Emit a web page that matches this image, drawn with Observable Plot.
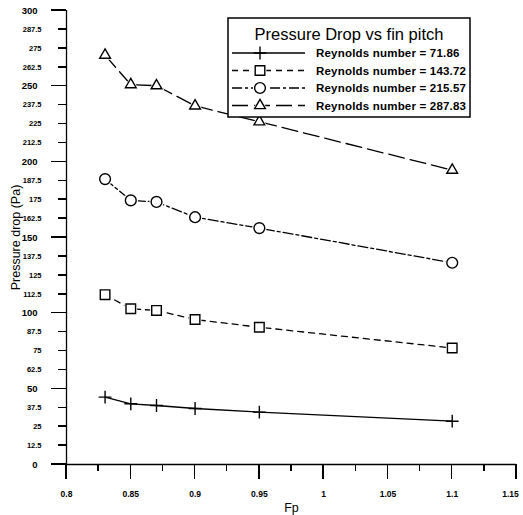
<!DOCTYPE html>
<html>
<head>
<meta charset="utf-8">
<script src="https://cdn.jsdelivr.net/npm/d3@7"></script>
<script src="https://cdn.jsdelivr.net/npm/@observablehq/plot@0.6"></script>
<style>
  body { margin: 0; background: #fff; }
</style>
</head>
<body>
<div id="wrap"></div>
<script>
// ---- data ----
const fp = [0.83, 0.85, 0.87, 0.9, 0.95, 1.1];
const re71 = [44.5, 40.1, 39.0, 37.0, 34.6, 28.6];
const re143 = [112.2, 102.9, 101.8, 95.8, 90.7, 77.0];
const re215 = [188.6, 174.5, 173.5, 163.4, 156.2, 133.3];
const re287 = [270.5, 251.0, 250.3, 237.0, 226.5, 194.5];
const seriesNames = ["Reynolds number = 71.86", "Reynolds number = 143.72", "Reynolds number = 215.57", "Reynolds number = 287.83"];
const seriesValues = [re71, re143, re215, re287];
const legendTitle = "Pressure Drop vs fin pitch";
const xLabel = "Fp";
const yLabel = "Pressure drop (Pa)";
const yMajor = [0, 50, 100, 150, 200, 250, 300];
const yMinor = [12.5, 25, 37.5, 62.5, 75, 87.5, 112.5, 125, 137.5, 162.5, 175, 187.5, 212.5, 225, 237.5, 262.5, 275, 287.5];
const xMajor = [0.8, 0.85, 0.9, 0.95, 1, 1.05, 1.1, 1.15];
const xMinor = [0.825, 0.875, 0.925, 0.975, 1.025, 1.075, 1.125];

// ---- styles ----
const symbols = ["plus", "square", "circle", "triangle"];
const d3symbols = [d3.symbolPlus, d3.symbolSquare, d3.symbolCircle, d3.symbolTriangle];
const dashes = [null, "6,5", "10,3,3,3", "16,6"];
const radii = [4.2, 5.4, 5.4, 4.0];
const tickFont = "'Liberation Sans',Arial,sans-serif";

const rows = [];
seriesValues.forEach((vals, s) => vals.forEach((v, i) => rows.push({fp: fp[i], v, s})));

const lineMarks = seriesValues.map((vals, s) =>
  Plot.line(rows.filter(d => d.s === s), {x: "fp", y: "v", stroke: "black", strokeWidth: 1.3, strokeDasharray: dashes[s] || undefined}));
const haloMarks = seriesValues.slice(1).map((vals, k) => {
  const s = k + 1;
  return Plot.dot(rows.filter(d => d.s === s), {x: "fp", y: "v", symbol: symbols[s], r: radii[s] + 1.8, fill: "white"});
});
const dotMarks = seriesValues.map((vals, s) =>
  Plot.dot(rows.filter(d => d.s === s), {x: "fp", y: "v", symbol: symbols[s], r: radii[s], fill: s === 0 ? "none" : "white", stroke: "black", strokeWidth: 1.4}));

const chart = Plot.plot({
  width: 523,
  height: 515,
  marginLeft: 66,
  marginRight: 7,
  marginTop: 10,
  marginBottom: 51,
  x: {domain: [0.8, 1.15]},
  y: {domain: [0, 300]},
  marks: [
    ...lineMarks,
    ...haloMarks,
    ...dotMarks,
    Plot.axisY(yMinor, {tickSize: 0, tickPadding: 25, tickFormat: d => String(d), label: null}),
    Plot.axisY(yMajor, {tickSize: 0, tickPadding: 29, tickFormat: d => String(d),
      label: yLabel, labelAnchor: "center", labelOffset: 55, labelArrow: "none"}),
    Plot.axisX(xMajor, {tickSize: 0, tickPadding: 26, tickFormat: d => String(d),
      label: xLabel, labelAnchor: "center", labelOffset: 47, labelArrow: "none"}),
    Plot.ruleX([0.8], {stroke: "black", strokeWidth: 1.3}),
    Plot.ruleY([0], {stroke: "black", strokeWidth: 1.3})
  ]
});

// ---- tick label fonts ----
const majorLabels = new Set(yMajor.map(String));
chart.querySelectorAll("g[aria-label='y-axis tick label'] text").forEach(t => {
  t.setAttribute("font-size", majorLabels.has(t.textContent) ? 9.5 : 7.5);
  t.setAttribute("font-weight", "bold");
  t.setAttribute("font-family", tickFont);
});
chart.querySelectorAll("g[aria-label='x-axis tick label'] text").forEach(t => {
  t.setAttribute("font-size", 8.5);
  t.setAttribute("font-weight", "bold");
  t.setAttribute("font-family", tickFont);
});
chart.querySelectorAll("g[aria-label='y-axis label'] text, g[aria-label='x-axis label'] text").forEach(t => {
  t.setAttribute("font-size", 12.5);
  t.setAttribute("font-weight", "normal");
  t.setAttribute("font-family", tickFont);
});
const xt = chart.querySelectorAll("g[aria-label='x-axis tick label'] text");
if (xt.length) xt[xt.length - 1].setAttribute("dx", "-6");

// ---- legend ----
const leg = d3.select(chart).append("g")
  .attr("font-family", tickFont)
  .attr("text-anchor", "start");
leg.append("rect").attr("x", 228).attr("y", 18).attr("width", 242).attr("height", 99)
  .attr("fill", "white").attr("stroke", "black").attr("stroke-width", 1.5);
leg.append("text").attr("x", 349).attr("y", 40).attr("text-anchor", "middle")
  .attr("font-size", 16.5).text(legendTitle);
seriesNames.forEach((name, s) => {
  const y = 53 + s * 17.5;
  const ln = leg.append("line").attr("x1", 232).attr("x2", 305).attr("y1", y).attr("y2", y)
    .attr("stroke", "black").attr("stroke-width", 1.3);
  if (dashes[s]) ln.attr("stroke-dasharray", dashes[s]);
  if (s > 0) {
    leg.append("path").attr("d", d3.symbol(d3symbols[s], Math.PI * (radii[s] + 1.8) ** 2)())
      .attr("transform", `translate(260,${y})`).attr("fill", "white");
  }
  leg.append("path").attr("d", d3.symbol(d3symbols[s], Math.PI * radii[s] * radii[s])())
    .attr("transform", `translate(260,${y})`)
    .attr("fill", s === 0 ? "none" : "white").attr("stroke", "black").attr("stroke-width", 1.4);
  leg.append("text").attr("x", 316).attr("y", y + 4).attr("font-size", 11.5).attr("font-weight", "bold")
    .attr("letter-spacing", 0.2).text(name);
});

// ---- tick marks, placed with the plot's own scales (drawn last) ----
const sx = chart.scale("x"), sy = chart.scale("y");
const x0 = sx.apply(0.8), y0 = sy.apply(0);
const ticks = d3.select(chart).append("g").attr("fill", "none");
const addLine = (x1, x2, y1, y2) => ticks.append("line")
  .attr("x1", x1).attr("x2", x2).attr("y1", y1).attr("y2", y2)
  .attr("stroke", "black").attr("stroke-width", 1.5).attr("shape-rendering", "crispEdges");
yMinor.forEach(v => addLine(x0 - 8, x0, sy.apply(v), sy.apply(v)));
yMajor.forEach(v => addLine(x0 - 15, x0, sy.apply(v), sy.apply(v)));
xMinor.forEach(v => addLine(sx.apply(v), sx.apply(v), y0, y0 + 7));
xMajor.forEach(v => addLine(sx.apply(v), sx.apply(v), y0, y0 + 15));

document.getElementById("wrap").appendChild(chart);
</script>
</body>
</html>
